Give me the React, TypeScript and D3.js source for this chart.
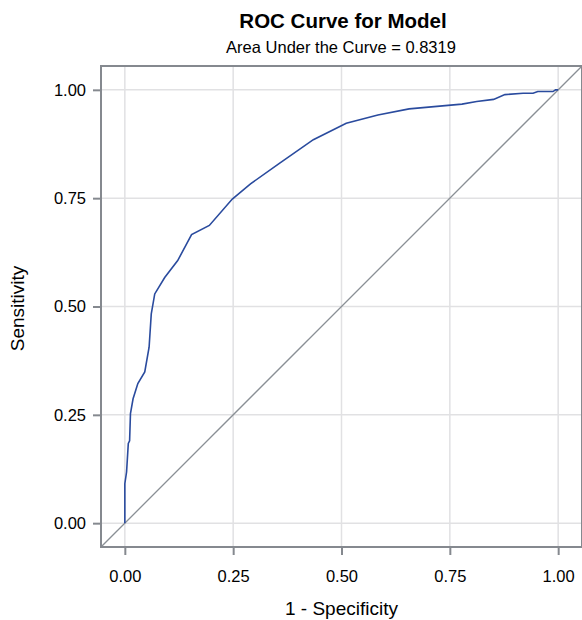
import React, { useEffect, useRef } from 'react';
import * as d3 from 'd3';

// ROC points: 1 - specificity, sensitivity
const fpr = [0, 0, 0.004, 0.008, 0.011, 0.013, 0.019, 0.03, 0.046, 0.056, 0.061, 0.069, 0.092, 0.122, 0.154, 0.195, 0.248, 0.29, 0.355, 0.435, 0.511, 0.584, 0.656, 0.778, 0.812, 0.851, 0.877, 0.919, 0.942, 0.953, 0.988, 0.994, 1];
const tpr = [0, 0.091, 0.118, 0.184, 0.19, 0.253, 0.287, 0.322, 0.349, 0.406, 0.483, 0.529, 0.567, 0.606, 0.666, 0.687, 0.748, 0.783, 0.829, 0.885, 0.923, 0.942, 0.956, 0.967, 0.973, 0.978, 0.989, 0.992, 0.992, 0.996, 0.996, 1, 1];
const ticks = [0, 0.25, 0.5, 0.75, 1];

const title = 'ROC Curve for Model';
const subtitle = 'Area Under the Curve = 0.8319';

const App = () => {
  const ref = useRef<SVGSVGElement>(null);

  useEffect(() => {
    const svg = d3.select(ref.current);
    svg.selectAll('*').remove();
    const font = '"Liberation Sans", Arial, sans-serif';

    const left = 101, top = 66, size = 481;
    const x = d3.scaleLinear().domain([-0.055, 1.055]).range([left, left + size]);
    const y = d3.scaleLinear().domain([-0.055, 1.055]).range([top + size, top]);

    svg.append('defs').append('clipPath').attr('id', 'clip')
      .append('rect').attr('x', left).attr('y', top).attr('width', size).attr('height', size);

    const g = svg.append('g');

    // grid
    g.selectAll('.vg').data(ticks).join('line')
      .attr('class', 'vg')
      .attr('x1', d => x(d)).attr('x2', d => x(d))
      .attr('y1', top).attr('y2', top + size)
      .attr('stroke', '#e1e1e3').attr('stroke-width', 1.5);
    g.selectAll('.hg').data(ticks).join('line')
      .attr('class', 'hg')
      .attr('y1', d => y(d)).attr('y2', d => y(d))
      .attr('x1', left).attr('x2', left + size)
      .attr('stroke', '#e1e1e3').attr('stroke-width', 1.5);

    const plot = g.append('g').attr('clip-path', 'url(#clip)');
    plot.append('line')
      .attr('x1', x(-0.055)).attr('y1', y(-0.055))
      .attr('x2', x(1.055)).attr('y2', y(1.055))
      .attr('stroke', '#8a8f95').attr('stroke-width', 1.3);

    const pts = fpr.map((v, i) => [v, tpr[i]] as [number, number]);
    plot.append('path')
      .datum(pts)
      .attr('d', d3.line<[number, number]>().x(d => x(d[0])).y(d => y(d[1])))
      .attr('fill', 'none')
      .attr('stroke', '#2a4b9e')
      .attr('stroke-width', 1.6);

    // frame
    const frame = '#85898f';
    g.append('rect')
      .attr('x', left).attr('y', top).attr('width', size).attr('height', size)
      .attr('fill', 'none').attr('stroke', frame).attr('stroke-width', 2);

    const xAxis = g.append('g').attr('transform', `translate(0,${top + size})`)
      .call(d3.axisBottom(x).tickValues(ticks).tickFormat(d3.format('.2f')).tickSize(8).tickSizeOuter(0));
    const yAxis = g.append('g').attr('transform', `translate(${left},0)`)
      .call(d3.axisLeft(y).tickValues(ticks).tickFormat(d3.format('.2f')).tickSize(8).tickSizeOuter(0));
    [xAxis, yAxis].forEach(a => {
      a.select('.domain').remove();
      a.selectAll('line').attr('stroke', frame).attr('stroke-width', 2);
      a.selectAll('text').attr('fill', '#000').style('font-family', font).style('font-size', '16.5px');
    });
    xAxis.selectAll('text').attr('dy', '1.44em');
    yAxis.selectAll('text').attr('x', -15);

    g.append('text')
      .attr('x', x(0.5)).attr('y', 615)
      .attr('text-anchor', 'middle')
      .style('font-family', font).style('font-size', '19px')
      .text('1 - Specificity');
    g.append('text')
      .attr('transform', `translate(24,${y(0.5) + 2}) rotate(-90)`)
      .attr('text-anchor', 'middle')
      .style('font-family', font).style('font-size', '19px')
      .text('Sensitivity');

    g.append('text')
      .attr('x', 343).attr('y', 28)
      .attr('text-anchor', 'middle')
      .style('font-family', font).style('font-size', '20.5px').style('font-weight', 'bold')
      .text(title);
    g.append('text')
      .attr('x', 341).attr('y', 53)
      .attr('text-anchor', 'middle')
      .style('font-family', font).style('font-size', '16.5px')
      .text(subtitle);
  }, []);

  return (
    <svg ref={ref} width={582} height={620}
      style={{ position: 'absolute', left: 0, top: 0, background: '#fff' }} />
  );
};

export default App;
